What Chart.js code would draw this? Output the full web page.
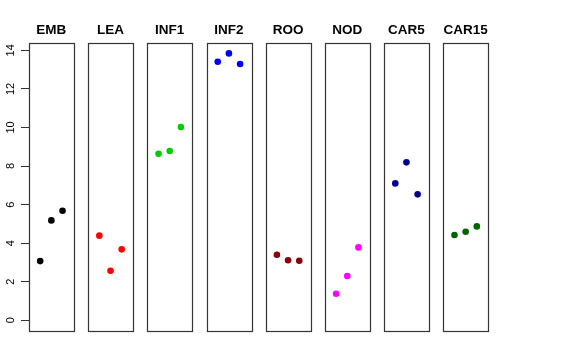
<!DOCTYPE html>
<html>
<head>
<meta charset="utf-8">
<script src="https://cdn.jsdelivr.net/npm/chart.js@4/dist/chart.umd.min.js"></script>
<style>
  html, body { margin: 0; padding: 0; background: #fff; }
  #wrap { width: 576px; height: 360px; position: relative; }
</style>
</head>
<body>
<div id="wrap"><canvas id="c" width="576" height="360"></canvas></div>
<script>
// ---- data ----
const categories = ["EMB", "LEA", "INF1", "INF2", "ROO", "NOD", "CAR5", "CAR15"];
const replicates = [1, 2, 3];
const valEMB   = [3.07, 5.18, 5.68];
const valLEA   = [4.39, 2.57, 3.68];
const valINF1  = [8.64, 8.78, 10.02];
const valINF2  = [13.41, 13.84, 13.29];
const valROO   = [3.40, 3.11, 3.09];
const valNOD   = [1.38, 2.30, 3.78];
const valCAR5  = [7.10, 8.19, 6.53];
const valCAR15 = [4.42, 4.59, 4.87];
const seriesValues = [valEMB, valLEA, valINF1, valINF2, valROO, valNOD, valCAR5, valCAR15];
const yTickLabels = [0, 2, 4, 6, 8, 10, 12, 14];
const colors = ["#000000", "#FF0000", "#00CD00", "#0000FF", "#8B0000", "#FF00FF", "#00008B", "#006400"];

// ---- layout (panel geometry in x units) ----
const PANEL_W = 4;        // each panel spans 0..4 in its own x units
const PITCH = 5.297;      // panel width + gap
const X_MAX = (categories.length - 1) * PITCH + PANEL_W;

const datasets = categories.map((cat, i) => ({
  label: cat,
  data: seriesValues[i].map((v, j) => ({ x: i * PITCH + replicates[j], y: v })),
  backgroundColor: colors[i],
  borderColor: colors[i],
  borderWidth: 0,
  pointRadius: 3.3,
  pointHoverRadius: 3.3,
  showLine: false
}));

const panelPlugin = {
  id: 'panels',
  afterDatasetsDraw(chart) {
    const ctx = chart.ctx;
    const xs = chart.scales.x;
    const area = chart.chartArea;
    ctx.save();
    categories.forEach((cat, i) => {
      const l = xs.getPixelForValue(i * PITCH);
      const r = xs.getPixelForValue(i * PITCH + PANEL_W);
      ctx.strokeStyle = '#333';
      ctx.lineWidth = 1.2;
      ctx.strokeRect(Math.round(l) + 0.5, Math.round(area.top) + 0.5,
                     Math.round(r - l), Math.round(area.bottom - area.top));
      ctx.fillStyle = '#000';
      ctx.font = 'bold 13.5px "Liberation Sans", Arial, sans-serif';
      ctx.textAlign = 'center';
      ctx.textBaseline = 'alphabetic';
      ctx.fillText(cat, (l + r) / 2, 34);
    });
    ctx.restore();
  }
};

new Chart(document.getElementById('c'), {
  type: 'scatter',
  data: { datasets },
  options: {
    responsive: false,
    animation: false,
    events: [],
    layout: { padding: { top: 43, bottom: 29.3, left: 0, right: 88 } },
    plugins: { legend: { display: false }, tooltip: { enabled: false }, title: { display: false } },
    scales: {
      x: {
        type: 'linear', min: 0, max: X_MAX, display: false
      },
      y: {
        type: 'linear', min: -0.54, max: 14.38,
        afterFit(scale) { scale.width = 29; },
        afterBuildTicks(scale) { scale.ticks = yTickLabels.map(v => ({ value: v })); },
        border: { display: false },
        grid: { display: true, drawOnChartArea: false, drawTicks: true, tickLength: 8, color: '#333', lineWidth: 1 },
        ticks: {
          minRotation: 90, maxRotation: 90,
          crossAlign: 'center',
          padding: 4,
          color: '#000',
          font: { family: '"Liberation Sans", Arial, sans-serif', size: 11 },
          callback: (v) => String(v)
        }
      }
    }
  },
  plugins: [panelPlugin]
});
</script>
</body>
</html>
